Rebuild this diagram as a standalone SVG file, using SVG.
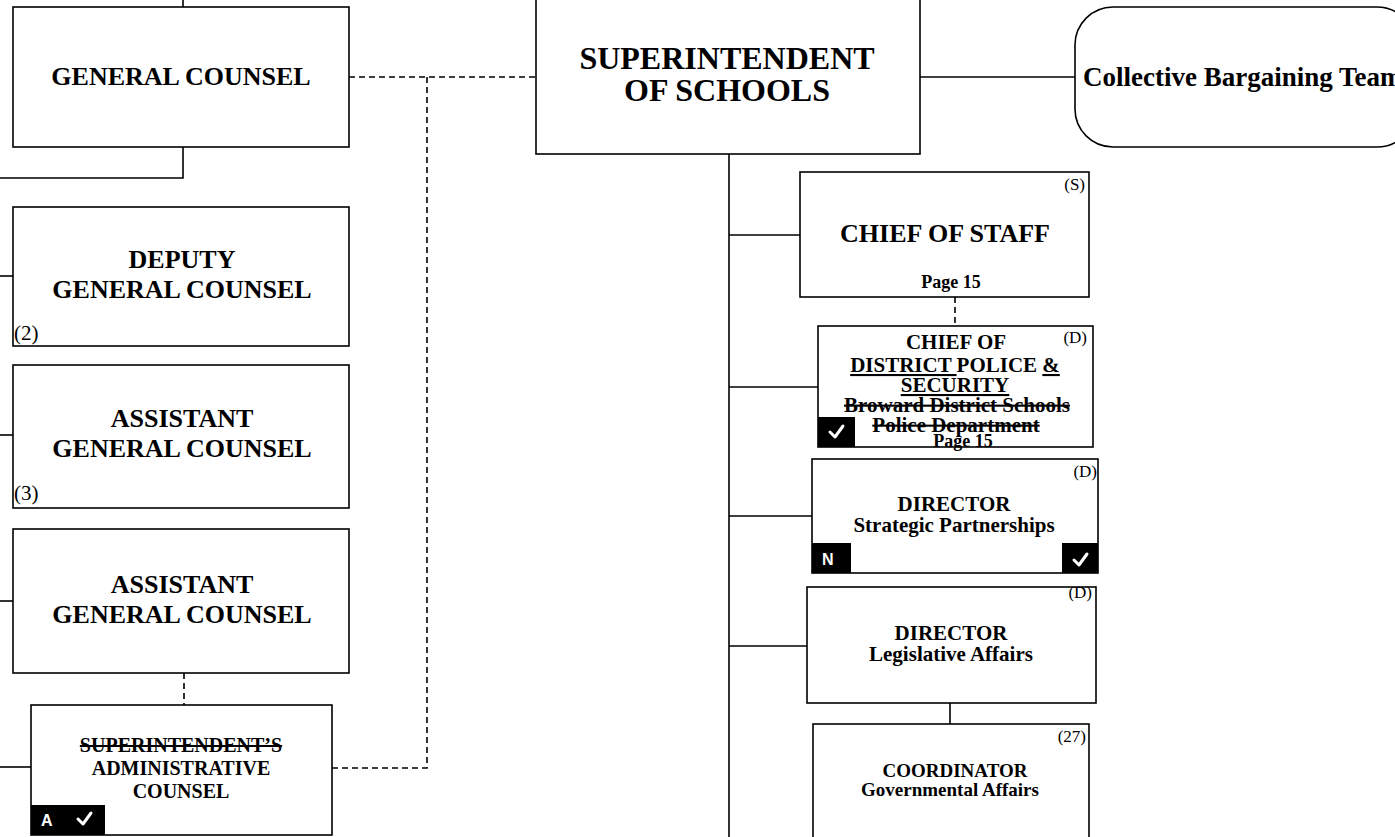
<svg xmlns="http://www.w3.org/2000/svg" width="1395" height="837" viewBox="0 0 1395 837">
<style>
.box{fill:#fff;stroke:#000;stroke-width:1.6}
.ln{fill:none;stroke:#000;stroke-width:1.6}
.dash{fill:none;stroke:#000;stroke-width:1.6;stroke-dasharray:6 4}
text{font-family:"Liberation Serif","Times New Roman",serif;fill:#000}
.b{font-weight:bold;text-anchor:middle}
.t32{font-size:32px}
.t26{font-size:26px}
.t21{font-size:21px}
.t20{font-size:20px}
.t19{font-size:19px}
.t18{font-size:18px}
.tag{font-size:17px;text-anchor:end}
.num{font-size:21px}
.strike{text-decoration:line-through}
.ul{text-decoration:underline}
.badge{fill:#000}
.chk{fill:none;stroke:#fff;stroke-width:3;stroke-linecap:round;stroke-linejoin:round}
.bl{font-family:"Liberation Sans",Arial,sans-serif;font-weight:bold;font-size:16px;fill:#fff}
</style>
<rect width="1395" height="837" fill="#fff"/>
<g id="connectors">
<path class="ln" d="M183 0V7"/>
<path class="ln" d="M183 147V178H0"/>
<path class="ln" d="M0 276H13"/>
<path class="ln" d="M0 435H13"/>
<path class="ln" d="M0 601H13"/>
<path class="ln" d="M0 767H31"/>
<path class="dash" d="M349 77H536"/>
<path class="dash" d="M427 77V768H332"/>
<path class="dash" d="M184 673V705"/>
<path class="ln" d="M920 77H1075"/>
<path class="ln" d="M729 154V837"/>
<path class="ln" d="M729 235H800"/>
<path class="ln" d="M729 387H818"/>
<path class="ln" d="M729 516H812"/>
<path class="ln" d="M729 646H807"/>
<path class="dash" d="M955 297V326"/>
<path class="ln" d="M950 703V724"/>
</g>
<g id="general-counsel">
<rect class="box" x="13" y="7" width="336" height="140"/>
<text class="b t26" x="181" y="85">GENERAL COUNSEL</text>
</g>
<g id="superintendent">
<rect class="box" x="536" y="-2" width="384" height="156"/>
<text class="b t32" x="727" y="69">SUPERINTENDENT</text>
<text class="b t32" x="727" y="101">OF SCHOOLS</text>
</g>
<g id="collective-bargaining">
<rect class="box" x="1075" y="7" width="340" height="140" rx="38" ry="38"/>
<text x="1083" y="86" font-weight="bold" font-size="27">Collective Bargaining Team</text>
</g>
<g id="deputy-general-counsel">
<rect class="box" x="13" y="207" width="336" height="139"/>
<text class="b t26" x="182" y="268">DEPUTY</text>
<text class="b t26" x="182" y="298">GENERAL COUNSEL</text>
<text class="num" x="14" y="340">(2)</text>
</g>
<g id="assistant-general-counsel-3">
<rect class="box" x="13" y="365" width="336" height="143"/>
<text class="b t26" x="182" y="427">ASSISTANT</text>
<text class="b t26" x="182" y="457">GENERAL COUNSEL</text>
<text class="num" x="14" y="500">(3)</text>
</g>
<g id="assistant-general-counsel">
<rect class="box" x="13" y="529" width="336" height="144"/>
<text class="b t26" x="182" y="593">ASSISTANT</text>
<text class="b t26" x="182" y="623">GENERAL COUNSEL</text>
</g>
<g id="admin-counsel">
<rect class="box" x="31" y="705" width="301" height="130"/>
<text class="b t20 strike" x="181" y="752">SUPERINTENDENT’S</text>
<text class="b t20" x="181" y="775">ADMINISTRATIVE</text>
<text class="b t20" x="181" y="798">COUNSEL</text>
<rect class="badge" x="31" y="805" width="74" height="30"/>
<text class="bl" x="41" y="826">A</text>
<path class="chk" d="M78 819L83 824L91 813"/>
</g>
<g id="chief-of-staff">
<rect class="box" x="800" y="172" width="289" height="125"/>
<text class="tag" x="1085" y="190">(S)</text>
<text class="b t26" x="945" y="242">CHIEF OF STAFF</text>
<text class="b t18" x="951" y="288">Page 15</text>
</g>
<g id="chief-of-police">
<rect class="box" x="818" y="326" width="275" height="121"/>
<text class="tag" x="1087" y="343">(D)</text>
<text class="b t21" x="956" y="349">CHIEF OF</text>
<text class="b t21" x="955" y="372"><tspan class="ul">DISTRICT </tspan>POLICE <tspan class="ul">&amp;</tspan></text>
<text class="b t21 ul" x="955" y="392">SECURITY</text>
<text class="b t21 strike" x="957" y="412">Broward District Schools</text>
<text class="b t21 strike" x="956" y="432">Police Department</text>
<text class="b t18" x="963" y="447">Page 15</text>
<rect class="badge" x="818" y="417" width="37" height="30"/>
<path class="chk" d="M830 432L835 437L843 426"/>
</g>
<g id="director-strategic">
<rect class="box" x="812" y="459" width="286" height="114"/>
<text class="tag" x="1097" y="477">(D)</text>
<text class="b t21" x="954" y="511">DIRECTOR</text>
<text class="b t21" x="954" y="532">Strategic Partnerships</text>
<rect class="badge" x="812" y="543" width="39" height="30"/>
<text class="bl" x="822" y="565">N</text>
<rect class="badge" x="1062" y="543" width="36" height="30"/>
<path class="chk" d="M1074 560L1079 565L1087 554"/>
</g>
<g id="director-legislative">
<rect class="box" x="807" y="587" width="289" height="116"/>
<text class="tag" x="1092" y="598">(D)</text>
<text class="b t21" x="951" y="640">DIRECTOR</text>
<text class="b t21" x="951" y="661">Legislative Affairs</text>
</g>
<g id="coordinator">
<rect class="box" x="813" y="724" width="276" height="130"/>
<text class="tag" x="1086" y="742">(27)</text>
<text class="b t19" x="955" y="777">COORDINATOR</text>
<text class="b t19" x="950" y="796">Governmental Affairs</text>
</g>
</svg>
